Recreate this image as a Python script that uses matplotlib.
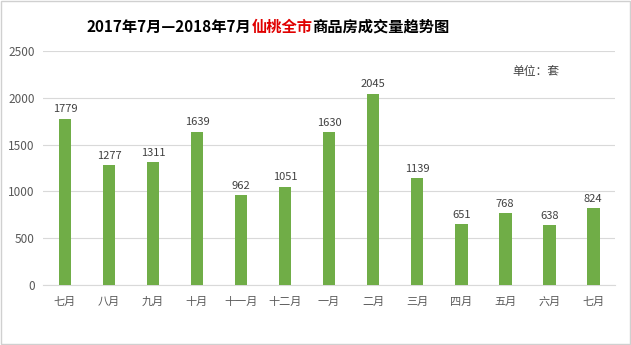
import matplotlib
matplotlib.use("Agg")
import matplotlib.pyplot as plt
import numpy as np

plt.rcParams['font.family'] = ['Noto Sans CJK SC', 'DejaVu Sans']

# monthly sales, Jul 2017 - Jul 2018
months = ['七月', '八月', '九月', '十月', '十一月', '十二月', '一月',
          '二月', '三月', '四月', '五月', '六月', '七月']
sales = [1779, 1277, 1311, 1639, 962, 1051, 1630, 2045, 1139, 651, 768, 638, 824]
yticks = [0, 500, 1000, 1500, 2000, 2500]

fig = plt.figure(figsize=(6.31, 3.45), dpi=100)
ax = fig.add_axes([0.068, 0.174, 0.907, 0.678])

x = np.arange(len(months))
ax.bar(x, sales, width=0.29, color='#70AD47', zorder=3)

# value labels above bars
for xi, v in zip(x, sales):
    ax.text(xi, v + 45, str(v), ha='center', va='bottom', fontsize=8,
            color='#404040')

ax.set_xlim(-0.5, len(months) - 0.5)
ax.set_ylim(0, 2500)
ax.set_yticks(yticks)
ax.set_yticklabels([str(t) for t in yticks], fontsize=8.5, color='#595959')
ax.set_xticks(x)
ax.set_xticklabels([])
# month labels on a common baseline
for xi, m in zip(x, months):
    ax.text(xi, -0.085, m, transform=ax.get_xaxis_transform(), ha='center',
            va='baseline', fontsize=8, color='#595959')
ax.tick_params(length=0, pad=6)
ax.yaxis.grid(True, color='#D9D9D9', linewidth=0.8, zorder=0)
for s in ['top', 'right', 'left']:
    ax.spines[s].set_visible(False)
ax.spines['bottom'].set_color('#D9D9D9')

# title with red part
parts = [('2017年7月—2018年7月', 'black'), ('仙桃全市', '#E00000'),
         ('商品房成交量趋势图', 'black')]
fig.canvas.draw()
r = fig.canvas.get_renderer()
texts = []
for s, c in parts:
    t = fig.text(0, 1 - 27 / 345, s, fontsize=11, fontweight='bold', color=c,
                 va='center', ha='left')
    texts.append(t)
widths = [t.get_window_extent(r).width for t in texts]
total = sum(widths)
start = 268 - total / 2
for t, w in zip(texts, widths):
    t.set_x(start / 631)
    start += w

fig.text(512 / 631, 1 - 72 / 345, '单位：套', fontsize=8.5, color='#404040',
         va='center', ha='left')

# light frame around the picture
fig.patches.append(plt.Rectangle((0.002, 0.003), 0.996, 0.994, fill=False,
                                 edgecolor='#D0D0D0', linewidth=1,
                                 transform=fig.transFigure))

fig.savefig('out.png', dpi=100)
